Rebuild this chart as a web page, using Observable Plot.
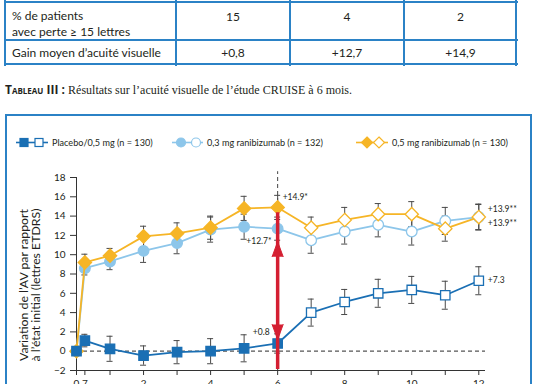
<!DOCTYPE html>
<html><head><meta charset="utf-8">
<script src="https://cdn.jsdelivr.net/npm/d3@7"></script>
<script src="https://cdn.jsdelivr.net/npm/@observablehq/plot@0.6"></script>
<style>
html,body{margin:0;padding:0;background:#fff;}
body{width:538px;height:384px;overflow:hidden;position:relative;font-family:Lato,"Open Sans",sans-serif;color:#231f20;}
.hl{position:absolute;height:2px;background:#2b82c6;}
.vl{position:absolute;width:2px;background:#2b82c6;}
.t{position:absolute;font-size:12px;line-height:14px;white-space:nowrap;}
.c{transform:translateX(-50%);}
#box{position:absolute;left:5px;top:114px;width:523px;height:300px;border:2px solid #2b82c6;border-bottom:none;}
#legend{position:absolute;left:0;top:133px;width:538px;height:20px;}
#chart{position:absolute;left:0;top:0;}
#ytitle{position:absolute;left:29px;top:285px;transform:translate(-50%,-50%) rotate(-90deg);font-size:12.3px;line-height:11.5px;text-align:center;white-space:nowrap;color:#231f20;}
</style></head>
<body>
<div id="table"></div>
<div class="t" style="left:5px;top:83px;">
<span style="font-family:'Open Sans',sans-serif;font-weight:700;font-variant:small-caps;font-size:12px;">Tableau III :</span>
<span style="font-family:'Liberation Serif',serif;font-size:12px;">Résultats sur l’acuité visuelle de l’étude CRUISE à 6 mois.</span>
</div>
<div id="box"></div>
<div id="legend"></div>
<div id="ytitle"></div>
<div id="chart"></div>
<script>
// ---- data ----
const tableRowLabels = [["% de patients", "avec perte ≥ 15 lettres"], ["Gain moyen d’acuité visuelle"]];
const tableLoss15 = ["15", "4", "2"];
const tableGain = ["+0,8", "+12,7", "+14,9"];

const seriesNames = ["Placebo/0,5 mg (n = 130)", "0,3 mg ranibizumab (n = 132)", "0,5 mg ranibizumab (n = 130)"];
const seriesColors = ["#1a6fb4", "#8dc6ea", "#f6b526"];
const seriesSymbols = ["square", "circle", "diamond2"];

const months = [0, 0.25, 1, 2, 3, 4, 5, 6, 7, 8, 9, 10, 11, 12];
const placebo    = [0, 1.1, 0.25, -0.45, -0.1, 0, 0.3, 0.8, 4.0, 5.1, 6.0, 6.35, 5.8, 7.3];
const placeboErr = [0, 0.65, 1.3, 1.0, 1.2, 1.3, 1.4, 1.0, 1.4, 1.3, 1.45, 1.4, 1.45, 1.45];
const mg03    = [0, 8.6, 9.3, 10.4, 11.2, 12.6, 12.9, 12.7, 11.5, 12.4, 13.1, 12.4, 13.5, 13.9];
const mg03Err = [0, 0.7, 0.85, 1.2, 1.1, 1.3, 1.3, 1.2, 1.35, 1.3, 1.25, 1.4, 1.4, 1.3];
const mg05    = [0, 9.2, 9.9, 11.9, 12.2, 12.8, 14.8, 14.9, 12.8, 13.6, 14.2, 14.2, 12.7, 13.9];
const mg05Err = [0, 0.85, 0.75, 1.05, 1.1, 1.2, 1.25, 1.25, 1.1, 1.3, 1.1, 1.3, 1.3, 1.35];
const switchMonth = 6; // open markers after this month

const xTicks = [0, 0.25, 1, 2, 3, 4, 5, 6, 7, 8, 9, 10, 11, 12];
const xTickLabels = ["0", "7", "", "2", "", "4", "", "6", "", "8", "", "10", "", "12"];
const yTicks = [-2, 0, 2, 4, 6, 8, 10, 12, 14, 16, 18];
const yTitleLines = ["Variation de l’AV par rapport", "à l’état initial (lettres ETDRS)"];

const annotationTexts = ["+14.9*", "+12.7*", "+0.8", "+13.9**", "+13.9**", "+7.3"];
const annotationMonths = [6, 6, 6, 12, 12, 12];
const annotationValues = [14.9, 12.7, 0.8, 13.9, 13.9, 7.3];

// ---- table (HTML) ----
(function(){
  const T = document.getElementById("table");
  const cols = [5, 176, 290, 404, 516];
  const rowsY = [2, 40, 64];
  let h = "";
  rowsY.forEach(y => h += `<div class="hl" style="left:5px;width:513px;top:${y-1}px"></div>`);
  cols.forEach(x => h += `<div class="vl" style="left:${x-1}px;top:0;height:66px"></div>`);
  const centers = [233, 347, 460.5];
  h += `<div class="t" style="left:12px;top:9px">${tableRowLabels[0][0]}</div>`;
  h += `<div class="t" style="left:12px;top:25px">${tableRowLabels[0][1]}</div>`;
  h += `<div class="t" style="left:12px;top:46px">${tableRowLabels[1][0]}</div>`;
  tableLoss15.forEach((s,i)=> h += `<div class="t c" style="left:${centers[i]}px;top:10px">${s}</div>`);
  tableGain.forEach((s,i)=> h += `<div class="t c" style="left:${centers[i]}px;top:46px">${s}</div>`);
  T.innerHTML = h;
})();
document.getElementById("ytitle").innerHTML = yTitleLines.join("<br>");

// ---- legend (HTML + inline svg) ----
(function(){
  const L = document.getElementById("legend");
  const pos = [{x0:16, x1:48, a:24, b:39, t:52}, {x0:172, x1:203, a:181, b:196, t:207}, {x0:356, x1:388, a:367, b:379, t:392}];
  function sym(k, cx, cy, fill, col){
    if (k==="square") return `<rect x="${cx-4}" y="${cy-4}" width="8" height="8" fill="${fill}" stroke="${col}" stroke-width="1.2"/>`;
    if (k==="circle") return `<circle cx="${cx}" cy="${cy}" r="4.5" fill="${fill}" stroke="${col}" stroke-width="1.2"/>`;
    return `<path d="M${cx},${cy-5.5}L${cx+5.5},${cy}L${cx},${cy+5.5}L${cx-5.5},${cy}Z" fill="${fill}" stroke="${col}" stroke-width="1.2"/>`;
  }
  let s = `<svg width="538" height="20" style="position:absolute;left:0;top:0">`;
  seriesNames.forEach((n,i)=>{
    const p = pos[i], c = seriesColors[i], y = 9.5;
    s += `<line x1="${p.x0}" x2="${p.x1}" y1="${y}" y2="${y}" stroke="${c}" stroke-width="1.6"/>`;
    s += sym(seriesSymbols[i], p.a, y, c, c) + sym(seriesSymbols[i], p.b, y, "#fff", c);
    s += `<text x="${p.t}" y="${y}" dy="0.35em" font-size="9.1" fill="#231f20" font-family="Lato, sans-serif">${n}</text>`;
  });
  s += `</svg>`;
  L.innerHTML = s;
})();

// ---- chart (Plot) ----
const groups = [placebo, mg03, mg05];
const groupErr = [placeboErr, mg03Err, mg05Err];
const rows = [];
[1, 2, 0].forEach(g => months.forEach((m, i) => rows.push({
  g, m, v: groups[g][i], e: groupErr[g][i], open: m > switchMonth
})));
const capHalf = 0.09;
const red = "#d41f32";
// label placement (pixels) for each annotation
const annOffsets = [
  {anchor: "start", dx: 5, dy: -10},
  {anchor: "end", dx: -6, dy: 13},
  {anchor: "end", dx: -8, dy: -11},
  {anchor: "start", dx: 9, dy: -8},
  {anchor: "start", dx: 9, dy: 6},
  {anchor: "start", dx: 9, dy: 0}
];
const annMarks = annotationTexts.map((t, i) => Plot.text([i], {
  x: i => annotationMonths[i], y: i => annotationValues[i], text: i => annotationTexts[i],
  textAnchor: annOffsets[i].anchor, dx: annOffsets[i].dx, dy: annOffsets[i].dy,
  fontSize: 8.5, fill: "#231f20"
}));

const chart = Plot.plot({
  width: 538, height: 400,
  marginLeft: 76, marginRight: 53, marginTop: 177, marginBottom: 30,
  style: {background: "transparent", fontFamily: "Lato, sans-serif", fontSize: "10px", color: "#231f20", overflow: "visible"},
  x: {domain: [0, 12.2]},
  y: {domain: [-2, 18]},
  marks: [
    Plot.ruleY([0], {x1: 0, x2: 12.2, stroke: "#555", strokeWidth: 1.2, strokeDasharray: "4,3"}),
    Plot.ruleX([switchMonth], {y1: -2, y2: 18.6, stroke: "#444", strokeWidth: 1, strokeDasharray: "4,3"}),
    Plot.ruleX([0], {y1: -2, y2: 18, stroke: "#333", strokeWidth: 1}),
    Plot.ruleY([-2], {x1: -0.12, x2: 12.2, stroke: "#333", strokeWidth: 1}),
    Plot.axisY({ticks: yTicks, tickSize: 6, tickPadding: 5, stroke: "#333", label: null, fill: "#231f20"}),
    Plot.axisX({ticks: xTicks, tickFormat: (d, i) => xTickLabels[i], tickSize: 5, tickPadding: 4, stroke: "#333", label: null, fill: "#231f20"}),
    // error bars
    Plot.ruleX(rows.filter(d => d.e > 0), {x: "m", y1: d => d.v - d.e, y2: d => d.v + d.e, stroke: "#4a4a4a", strokeWidth: 1}),
    Plot.ruleY(rows.filter(d => d.e > 0), {y: d => d.v + d.e, x1: d => d.m - capHalf, x2: d => d.m + capHalf, stroke: "#4a4a4a", strokeWidth: 1}),
    Plot.ruleY(rows.filter(d => d.e > 0), {y: d => d.v - d.e, x1: d => d.m - capHalf, x2: d => d.m + capHalf, stroke: "#4a4a4a", strokeWidth: 1}),
    // lines + markers (light blue, orange, then placebo)
    ...[1, 2, 0].flatMap(g => [
      Plot.line(rows.filter(d => d.g === g), {x: "m", y: "v", stroke: seriesColors[g], strokeWidth: 1.8}),
      Plot.dot(rows.filter(d => d.g === g), {
        x: "m", y: "v", symbol: () => seriesSymbols[g],
        r: g === 2 ? 6 : 5.3,
        fill: d => d.open ? "#fff" : seriesColors[g],
        stroke: seriesColors[g], strokeWidth: 1.3
      })
    ]),
    // red double arrow between placebo and 0.3 mg at month 6
    Plot.ruleX([switchMonth], {y1: placebo[7], y2: mg03[7], insetTop: 26, insetBottom: 16, stroke: red, strokeWidth: 3.5}),
    Plot.vector([switchMonth], {x: d => d, y: mg03[7], shape: "spike", length: 15, r: 5.5, anchor: "end", rotate: 0, dy: 13, fill: red, stroke: red, strokeWidth: 1}),
    Plot.vector([switchMonth], {x: d => d, y: placebo[7], shape: "spike", length: 15, r: 5.5, anchor: "end", rotate: 180, dy: -4, fill: red, stroke: red, strokeWidth: 1}),
    ...annMarks
  ]
});
document.getElementById("chart").appendChild(chart);
</script>
</body></html>
